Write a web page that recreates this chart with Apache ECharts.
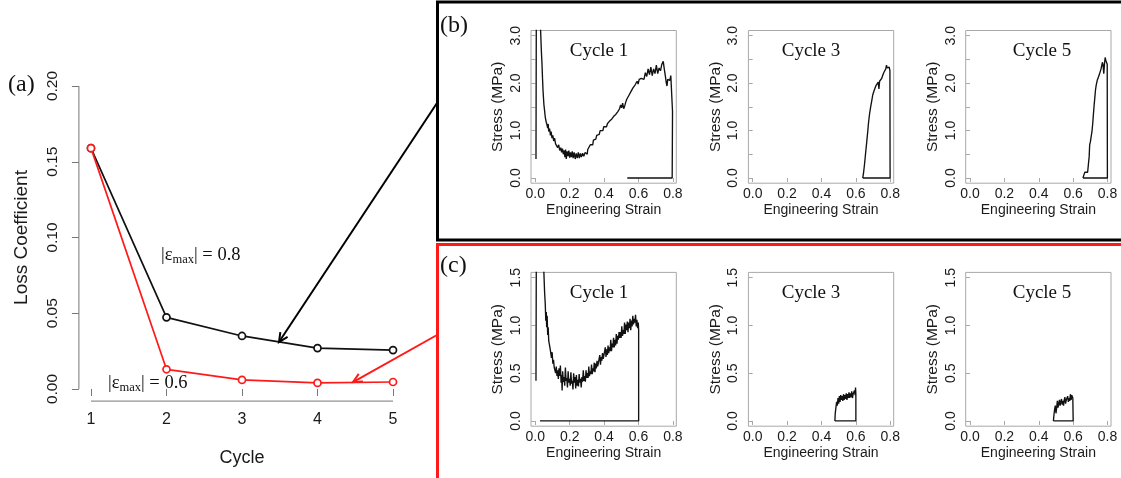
<!DOCTYPE html>
<html>
<head>
<meta charset="utf-8">
<script src="https://cdn.jsdelivr.net/npm/echarts@6/dist/echarts.min.js"></script>
<style>
  html, body { margin: 0; padding: 0; background: #fff; }
  #main { width: 1121px; height: 478px; }
</style>
</head>
<body>
<div id="main"></div>
<script>
// ---------- data ----------
const cycles = [1, 2, 3, 4, 5];
const lossEps08 = [0.159, 0.0473, 0.035, 0.027, 0.0257];
const lossEps06 = [0.159, 0.013, 0.006, 0.004, 0.0046];

const cycleTicks = [1, 2, 3, 4, 5];
const lossTicks = [0, 0.05, 0.10, 0.15, 0.20];
const strainTicks = [0, 0.2, 0.4, 0.6, 0.8];
const stressTicksB = [0, 0.5, 1.0, 1.5, 2.0, 2.5, 3.0];
const stressLabelsB = [0, 1.0, 2.0, 3.0];
const stressTicksC = [0, 0.5, 1.0, 1.5];

const cycleNames = ["Cycle 1", "Cycle 3", "Cycle 5"];

// (b) |eps_max| = 0.8, [strain, stress MPa]
const b1 = [[0.004,0.40],[0.006,3.6],[0.026,3.6],[0.031,3.1],[0.035,2.7],[0.039,2.4],[0.042,2.1],[0.045,1.84],[0.050,1.55],[0.054,1.42],
  [0.058,1.28],[0.064,1.17],[0.068,1.12],[0.072,1.05],[0.075,1.14],[0.078,0.98],[0.083,1.04],[0.088,0.90],[0.092,0.98],[0.097,0.84],
  [0.102,0.90],[0.107,0.78],[0.112,0.84],[0.118,0.72],[0.124,0.74],[0.130,0.64],[0.136,0.70],[0.142,0.58],[0.148,0.64],[0.153,0.54],
  [0.158,0.62],[0.163,0.50],[0.168,0.58],[0.172,0.44],[0.176,0.60],[0.180,0.40],[0.185,0.56],[0.190,0.46],[0.195,0.58],[0.200,0.43],
  [0.205,0.54],[0.210,0.44],[0.215,0.56],[0.220,0.42],[0.226,0.54],[0.232,0.40],[0.238,0.52],[0.244,0.42],[0.250,0.54],[0.256,0.42],
  [0.262,0.52],[0.268,0.44],[0.275,0.52],[0.282,0.46],[0.290,0.54],[0.298,0.52],[0.302,0.50],[0.305,0.60],[0.309,0.56],[0.312,0.64],
  [0.316,0.60],[0.320,0.70],[0.325,0.66],[0.330,0.74],[0.334,0.70],[0.338,0.80],[0.343,0.76],[0.348,0.84],[0.352,0.82],[0.357,0.90],
  [0.362,0.86],[0.367,0.94],[0.372,0.92],[0.377,1.00],[0.382,0.96],[0.388,1.04],[0.393,1.00],[0.398,1.08],[0.403,1.04],[0.408,1.10],
  [0.414,1.08],[0.420,1.15],[0.426,1.12],[0.432,1.20],[0.438,1.17],[0.444,1.24],[0.450,1.22],[0.456,1.30],[0.462,1.27],[0.468,1.34],
  [0.474,1.32],[0.480,1.40],[0.486,1.38],[0.490,1.46],[0.496,1.54],[0.502,1.48],[0.508,1.58],[0.514,1.46],[0.520,1.52],[0.526,1.60],
  [0.532,1.66],[0.538,1.64],[0.544,1.74],[0.550,1.72],[0.556,1.82],[0.562,1.80],[0.568,1.90],[0.574,1.88],[0.580,1.96],[0.586,1.92],
  [0.592,2.04],[0.598,1.98],[0.604,2.08],[0.610,2.04],[0.616,2.10],[0.624,2.14],[0.632,2.08],[0.640,2.22],[0.648,2.14],[0.656,2.30],
  [0.664,2.18],[0.672,2.34],[0.680,2.16],[0.688,2.30],[0.696,2.20],[0.704,2.38],[0.712,2.20],[0.720,2.32],[0.728,2.26],[0.736,2.40],
  [0.744,2.46],[0.750,2.30],[0.756,2.16],[0.762,2.00],[0.766,1.94],[0.770,2.08],[0.776,2.12],[0.782,2.06],[0.788,2.16],[0.794,2.18],
  [0.797,2.15],[0.798,1.40],[0.796,0.0],[0.535,0.0]];
const b3 = [[0.640,0.0],[0.645,0.12],[0.650,0.28],[0.656,0.50],[0.662,0.72],[0.668,0.94],[0.674,1.18],[0.680,1.36],[0.686,1.50],[0.692,1.62],
  [0.698,1.75],[0.704,1.82],[0.710,1.88],[0.716,1.94],[0.722,1.98],[0.726,1.92],[0.730,2.02],[0.734,1.88],[0.738,2.04],[0.744,2.08],
  [0.750,2.10],[0.756,2.16],[0.762,2.22],[0.768,2.26],[0.774,2.30],[0.778,2.38],[0.782,2.32],[0.786,2.36],[0.790,2.28],[0.794,2.34],
  [0.798,2.26],[0.799,0.0],[0.640,0.0]];
const b5 = [[0.657,0.0],[0.662,0.06],[0.668,0.12],[0.676,0.13],[0.684,0.12],[0.690,0.16],[0.693,0.45],[0.696,0.70],[0.700,0.76],[0.706,0.80],
  [0.710,1.00],[0.714,1.16],[0.718,1.36],[0.722,1.54],[0.726,1.70],[0.730,1.86],[0.734,1.96],[0.740,2.06],[0.746,2.12],[0.752,2.18],
  [0.758,2.22],[0.762,2.30],[0.766,2.26],[0.770,2.44],[0.774,2.38],[0.778,2.20],[0.782,2.40],[0.786,2.54],[0.790,2.48],[0.794,2.50],
  [0.798,2.40],[0.799,0.0],[0.657,0.0]];

// (c) |eps_max| = 0.6
const c1 = [[0.004,0.42],[0.006,1.8],[0.045,1.8],[0.050,1.55],[0.054,1.35],[0.058,1.22],[0.061,1.05],[0.064,1.14],[0.066,0.98],[0.069,1.10],
  [0.072,0.90],[0.075,0.98],[0.078,0.84],[0.082,0.86],[0.086,0.76],[0.090,0.78],[0.094,0.66],[0.098,0.72],[0.102,0.60],[0.106,0.64],
  [0.110,0.56],[0.114,0.58],[0.118,0.50],[0.122,0.57],[0.126,0.47],[0.130,0.53],[0.134,0.44],[0.138,0.55],[0.142,0.47],[0.146,0.58],
  [0.150,0.40],[0.153,0.48],[0.156,0.32],[0.159,0.52],[0.163,0.41],[0.167,0.46],[0.171,0.37],[0.175,0.56],[0.179,0.42],[0.183,0.45],
  [0.187,0.35],[0.191,0.52],[0.195,0.40],[0.199,0.44],[0.203,0.37],[0.207,0.51],[0.211,0.39],[0.215,0.42],[0.219,0.33],[0.223,0.50],
  [0.227,0.40],[0.231,0.46],[0.235,0.34],[0.239,0.48],[0.243,0.37],[0.247,0.43],[0.251,0.36],[0.255,0.49],[0.259,0.40],[0.263,0.44],
  [0.267,0.35],[0.271,0.46],[0.275,0.41],[0.279,0.53],[0.283,0.42],[0.287,0.47],[0.291,0.41],[0.295,0.53],[0.299,0.45],[0.303,0.50],
  [0.307,0.45],[0.311,0.57],[0.315,0.47],[0.319,0.52],[0.323,0.49],[0.327,0.59],[0.331,0.49],[0.335,0.55],[0.339,0.52],[0.343,0.61],
  [0.347,0.51],[0.351,0.60],[0.355,0.55],[0.359,0.63],[0.363,0.57],[0.367,0.61],[0.371,0.59],[0.375,0.69],[0.379,0.59],[0.383,0.67],
  [0.387,0.63],[0.391,0.71],[0.395,0.65],[0.399,0.69],[0.403,0.67],[0.407,0.77],[0.411,0.67],[0.415,0.75],[0.419,0.69],[0.423,0.79],
  [0.427,0.71],[0.431,0.77],[0.435,0.73],[0.439,0.85],[0.443,0.73],[0.447,0.81],[0.451,0.77],[0.455,0.87],[0.459,0.77],[0.463,0.85],
  [0.467,0.79],[0.471,0.91],[0.475,0.81],[0.479,0.89],[0.483,0.85],[0.487,0.93],[0.491,0.87],[0.495,0.93],[0.499,0.87],[0.503,0.99],
  [0.507,0.89],[0.511,0.95],[0.515,0.91],[0.519,1.03],[0.523,0.91],[0.527,1.01],[0.531,0.95],[0.535,1.04],[0.539,0.93],[0.543,1.03],
  [0.547,0.97],[0.551,1.07],[0.555,0.95],[0.559,1.05],[0.563,0.99],[0.567,1.10],[0.571,1.01],[0.575,1.07],[0.579,1.03],[0.583,1.11],
  [0.587,0.99],[0.591,1.06],[0.595,0.97],[0.599,1.03],[0.601,0.95],[0.601,0.0],[0.027,0.0]];
const c3 = [[0.478,0.0],[0.480,0.08],[0.484,0.14],[0.488,0.20],[0.492,0.16],[0.496,0.24],[0.500,0.18],[0.504,0.26],[0.508,0.20],[0.512,0.27],
  [0.516,0.22],[0.520,0.26],[0.524,0.21],[0.528,0.28],[0.532,0.22],[0.536,0.27],[0.540,0.23],[0.544,0.29],[0.548,0.22],[0.552,0.28],
  [0.556,0.24],[0.560,0.30],[0.564,0.24],[0.568,0.29],[0.572,0.25],[0.576,0.31],[0.580,0.24],[0.584,0.28],[0.588,0.26],[0.592,0.32],
  [0.596,0.27],[0.598,0.35],[0.600,0.28],[0.600,0.0],[0.478,0.0]];
const c5 = [[0.485,0.0],[0.488,0.06],[0.492,0.12],[0.496,0.16],[0.500,0.08],[0.504,0.14],[0.508,0.21],[0.512,0.14],[0.516,0.18],[0.520,0.22],
  [0.524,0.16],[0.528,0.20],[0.532,0.23],[0.536,0.17],[0.540,0.21],[0.544,0.16],[0.548,0.22],[0.552,0.25],[0.556,0.18],[0.560,0.22],
  [0.564,0.20],[0.568,0.26],[0.572,0.20],[0.576,0.24],[0.580,0.21],[0.584,0.28],[0.588,0.22],[0.592,0.27],[0.596,0.29],[0.598,0.24],
  [0.600,0.0],[0.485,0.0]];

// ---------- layout ----------
const SANS = '"Liberation Sans", Arial, sans-serif';
const SERIF = '"Liberation Serif", "Times New Roman", serif';
const TXT = "#1a1a1a";
const BOXC = "#a8a8a8";
const RED = "#ff1a1a";

const subLefts = [531, 748.4, 965.7];
const subW = 145.3;
const rowB = {top: 30.5, height: 152.7, min: -0.11, max: 3.11, ticks: stressTicksB, labels: stressLabelsB};
const rowC = {top: 272.4, height: 153.8, min: -0.055, max: 1.555, ticks: stressTicksC, labels: stressTicksC};

const chart = echarts.init(document.getElementById("main"), null, {renderer: "canvas"});

const grids = [{left: 78.9, top: 73.9, width: 326.2, height: 327.2, show: false}];
const xAxes = [{
  type: "value", gridIndex: 0, min: 0.84, max: 5.16,
  axisLine: {show: false}, splitLine: {show: false},
  axisTick: {show: true, customValues: cycleTicks, length: 7, lineStyle: {color: "#777", width: 1}},
  axisLabel: {customValues: cycleTicks, fontSize: 16, color: TXT, fontFamily: SANS, margin: 10},
  name: "Cycle", nameLocation: "middle", nameGap: 48,
  nameTextStyle: {fontSize: 18, color: TXT, fontFamily: SANS},
}];
const yAxes = [{
  type: "value", gridIndex: 0, min: -0.008, max: 0.208,
  axisLine: {show: false}, splitLine: {show: false},
  axisTick: {show: true, customValues: lossTicks, length: 7, lineStyle: {color: "#777", width: 1}},
  axisLabel: {customValues: lossTicks, rotate: 90, fontSize: 15.5, color: TXT, fontFamily: SANS, margin: 18,
    formatter: v => v.toFixed(2)},
  name: "Loss Coefficient", nameLocation: "middle", nameGap: 47.5,
  nameTextStyle: {fontSize: 19, color: TXT, fontFamily: SANS},
}];
const series = [
  {type: "line", xAxisIndex: 0, yAxisIndex: 0, data: cycles.map((c, i) => [c, lossEps08[i]]),
    symbol: "circle", symbolSize: 7, lineStyle: {color: "#111", width: 1.7},
    itemStyle: {color: "#fff", borderColor: "#111", borderWidth: 1.7}, z: 3},
  {type: "line", xAxisIndex: 0, yAxisIndex: 0, data: cycles.map((c, i) => [c, lossEps06[i]]),
    symbol: "circle", symbolSize: 7, lineStyle: {color: RED, width: 1.7},
    itemStyle: {color: "#fff", borderColor: RED, borderWidth: 1.7}, z: 4},
];

const curves = [b1, b3, b5, c1, c3, c5];
curves.forEach((curve, k) => {
  const row = k < 3 ? rowB : rowC;
  const gi = k + 1;
  grids.push({left: subLefts[k % 3], top: row.top, width: subW, height: row.height,
    show: true, borderColor: BOXC, borderWidth: 1});
  xAxes.push({
    type: "value", gridIndex: gi, min: -0.025, max: 0.82,
    axisLine: {show: false}, splitLine: {show: false},
    axisTick: {show: true, customValues: strainTicks, length: 4, lineStyle: {color: BOXC}},
    axisLabel: {customValues: strainTicks, formatter: v => v.toFixed(1), fontSize: 14, color: TXT,
      fontFamily: SANS, margin: 4},
    name: "Engineering Strain", nameLocation: "middle", nameGap: 20,
    nameTextStyle: {fontSize: 14, color: TXT, fontFamily: SANS},
  });
  yAxes.push({
    type: "value", gridIndex: gi, min: row.min, max: row.max,
    axisLine: {show: false}, splitLine: {show: false},
    axisTick: {show: true, customValues: row.ticks, length: 4, lineStyle: {color: BOXC}},
    axisLabel: {customValues: row.labels, formatter: v => v.toFixed(1), rotate: 90, fontSize: 14,
      color: TXT, fontFamily: SANS, margin: 8},
    name: "Stress (MPa)", nameLocation: "middle", nameGap: 25,
    nameTextStyle: {fontSize: 15.5, color: TXT, fontFamily: SANS},
  });
  series.push({type: "line", xAxisIndex: gi, yAxisIndex: gi, data: curve, showSymbol: false,
    symbol: "none", clip: true, lineStyle: {color: "#111", width: 1.35}});
});

chart.setOption({
  animation: false,
  grid: grids, xAxis: xAxes, yAxis: yAxes, series: series,
});

// ---------- annotations ----------
function px(gi, pt) { return chart.convertToPixel({gridIndex: gi}, pt); }

function arrow(from, to, color) {
  const dx = to[0] - from[0], dy = to[1] - from[1];
  const ang = Math.atan2(dy, dx);
  const len = 10, spread = Math.PI / 7;
  const h1 = [to[0] - len * Math.cos(ang - spread), to[1] - len * Math.sin(ang - spread)];
  const h2 = [to[0] - len * Math.cos(ang + spread), to[1] - len * Math.sin(ang + spread)];
  return [
    {type: "line", shape: {x1: from[0], y1: from[1], x2: to[0], y2: to[1]}, style: {stroke: color, lineWidth: 2}, z: 10},
    {type: "polyline", shape: {points: [h1, to, h2]}, style: {stroke: color, lineWidth: 2, fill: null}, z: 10},
  ];
}

const gfx = [];
// R style axis lines for panel (a), spanning the tick range only
const yA0 = px(0, [0.84, 0]), yA1 = px(0, [0.84, 0.20]);
gfx.push({type: "line", shape: {x1: yA0[0], y1: yA0[1], x2: yA1[0], y2: yA1[1]}, style: {stroke: "#777", lineWidth: 1}});
const xA0 = px(0, [1, -0.008]), xA1 = px(0, [5, -0.008]);
gfx.push({type: "line", shape: {x1: xA0[0], y1: xA0[1], x2: xA1[0], y2: xA1[1]}, style: {stroke: "#777", lineWidth: 1}});

// outer boxes of (b) and (c)
gfx.push({type: "rect", shape: {x: 437.5, y: 2, width: 720, height: 238}, style: {stroke: "#000", lineWidth: 3, fill: null}});
gfx.push({type: "rect", shape: {x: 437.5, y: 244.5, width: 720, height: 300}, style: {stroke: RED, lineWidth: 3, fill: null}});

// arrows
gfx.push(...arrow([437, 103], px(0, [3.49, 0.031]), "#000"));
gfx.push(...arrow([437, 335], px(0, [4.47, 0.0046]), RED));

// panel letters
const letter = (t, x, y) => ({type: "text", x: x, y: y,
  style: {text: t, font: "24px " + SERIF, fill: "#111", align: "left", verticalAlign: "middle"}});
gfx.push(letter("(a)", 8, 85), letter("(b)", 440, 26), letter("(c)", 440, 266));

// cycle titles
const titleX = [599, 811, 1042];
cycleNames.forEach((t, i) => {
  [51, 293].forEach(y => gfx.push({type: "text", x: titleX[i], y: y,
    style: {text: t, font: "19px " + SERIF, fill: "#111", align: "center", verticalAlign: "middle"}}));
});

// epsilon labels
const epsLabel = (val, x, y) => ({type: "text", x: x, y: y,
  style: {text: "|ε{s|max}| = " + val, font: "18.5px " + SERIF, fill: "#111", align: "left", verticalAlign: "middle",
    rich: {s: {font: "12.5px " + SERIF, fill: "#111", padding: [9, 0, 0, 0]}}}});
gfx.push(epsLabel("0.8", 161, 255), epsLabel("0.6", 108, 383));

chart.setOption({graphic: {elements: gfx}});
</script>
</body>
</html>
